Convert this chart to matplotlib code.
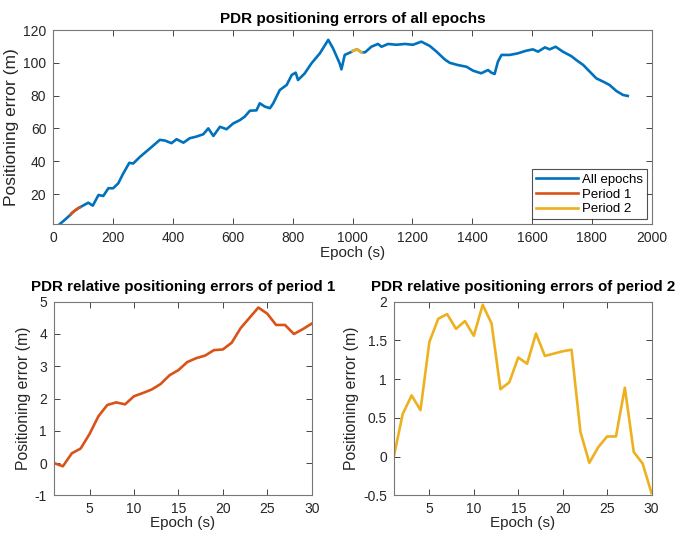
import numpy as np
import matplotlib
matplotlib.use("Agg")
import matplotlib.pyplot as plt

plt.rcParams['font.family'] = ['Liberation Sans', 'DejaVu Sans']
plt.rcParams['axes.unicode_minus'] = False

# all-epoch PDR error
all_epochs = [22, 40, 58, 61, 70, 83, 88, 100, 117, 132, 151, 167, 184, 200, 217, 234, 254, 267,
              290, 323, 356, 373, 395, 412, 435, 456, 478, 501, 518, 535, 557, 579, 601,
              623, 640, 657, 679, 690, 707, 724, 735, 757, 780, 797, 810, 818, 840, 863,
              891, 919, 935, 957, 963, 974, 997, 1000, 1015, 1030, 1042, 1063, 1085, 1097,
              1119, 1147, 1175, 1202, 1230, 1258, 1281, 1308, 1325, 1353, 1381, 1403,
              1430, 1453, 1464, 1475, 1486, 1498, 1526, 1553, 1581, 1603, 1620, 1643,
              1659, 1679, 1703, 1731, 1748, 1771, 1793, 1815, 1837, 1859, 1882, 1904, 1920]
all_errors = [1.7, 4.5, 7.5, 8.2, 9.6, 11.3, 11.8, 13.0, 14.7, 12.9, 19.4, 18.8, 23.5, 23.5, 26.5,
              32.6, 39.0, 38.6, 42.7, 47.8, 53.0, 52.6, 51.0, 53.4, 51.3, 54.0, 55.0, 56.4,
              60.0, 55.4, 61.0, 59.5, 63.0, 65.0, 67.2, 70.8, 71.0, 75.3, 73.3, 72.3, 75.3,
              83.4, 86.5, 92.6, 94.0, 89.5, 93.5, 99.7, 105.8, 114.0, 108.8, 99.7, 96.0,
              104.8, 106.7, 107.2, 108.2, 106.4, 106.4, 109.8, 111.5, 109.8, 111.5, 111.0,
              111.5, 111.0, 112.9, 110.3, 106.8, 102.1, 100.0, 98.6, 97.6, 95.2, 93.6,
              95.6, 94.0, 93.2, 100.7, 104.8, 104.8, 105.8, 107.4, 108.2, 106.8, 109.4,
              108.2, 109.8, 106.8, 104.1, 101.7, 98.7, 94.6, 90.5, 88.6, 86.5, 82.8, 80.4, 79.8]

period1_range = (58, 88)
period2_range = (1000, 1030)

# relative errors of the two periods
period_epochs = list(range(1, 31))
period1_errors = [0.0, -0.1, 0.3, 0.45, 0.9, 1.45, 1.8, 1.88, 1.82, 2.07, 2.17, 2.28, 2.45, 2.72,
                  2.88, 3.13, 3.25, 3.33, 3.5, 3.52, 3.73, 4.18, 4.5, 4.82, 4.63, 4.28, 4.28,
                  4.0, 4.15, 4.32]
period2_errors = [0.0, 0.55, 0.79, 0.6, 1.48, 1.78, 1.84, 1.65, 1.75, 1.56, 1.96, 1.72, 0.87,
                  0.96, 1.28, 1.2, 1.59, 1.3, 1.33, 1.36, 1.38, 0.32, -0.08, 0.12, 0.26, 0.26,
                  0.89, 0.06, -0.09, -0.47]

blue = '#0072BD'
red = '#D95319'
yellow = '#EDB120'
axcol = '#262626'


def style(ax):
    ax.tick_params(direction='in', top=True, right=True, length=4, width=0.6,
                   colors=axcol, labelsize=10, pad=5)
    for s in ax.spines.values():
        s.set_color('#777777')
        s.set_linewidth(0.8)


fig = plt.figure(figsize=(6.79, 5.33), dpi=100)

ax1 = fig.add_axes([0.0785, 0.5797, 0.8813, 0.364])
ep = np.array(all_epochs)
er = np.array(all_errors)
ax1.plot(ep, er, color=blue, lw=1.9, label='All epochs')
m1 = (ep >= period1_range[0]) & (ep <= period1_range[1])
m2 = (ep >= period2_range[0]) & (ep <= period2_range[1])
ax1.plot(ep[m1], er[m1], color=red, lw=1.9, label='Period 1')
ax1.plot(ep[m2], er[m2], color=yellow, lw=1.9, label='Period 2')
ax1.set_xlim(0, 2000)
ax1.set_ylim(1.7, 120)
ax1.set_xticks(range(0, 2001, 200))
ax1.set_yticks(range(20, 121, 20))
ax1.set_title('PDR positioning errors of all epochs', fontsize=11, fontweight='bold', pad=5)
ax1.set_xlabel('Epoch (s)', fontsize=11, color=axcol, labelpad=1)
ax1.set_ylabel('Positioning error (m)', fontsize=12.5, color=axcol, labelpad=3)
style(ax1)
leg = ax1.legend(loc='lower right', fontsize=9.5, frameon=True, fancybox=False,
                 handlelength=3.2, handletextpad=0.3, borderpad=0.3, labelspacing=0.2,
                 borderaxespad=0.35)
leg.get_frame().set_edgecolor('#262626')
leg.get_frame().set_linewidth(0.8)

ax2 = fig.add_axes([0.0795, 0.0707, 0.3795, 0.3632])
ax2.plot(period_epochs, period1_errors, color=red, lw=1.9)
ax2.set_xlim(1, 30)
ax2.set_ylim(-1, 5)
ax2.set_xticks(range(5, 31, 5))
ax2.set_title('PDR relative positioning errors of period 1', fontsize=10.9, fontweight='bold', pad=8)
ax2.set_xlabel('Epoch (s)', fontsize=11, color=axcol, labelpad=0)
ax2.set_ylabel('Positioning error (m)', fontsize=11.3, color=axcol, labelpad=3)
style(ax2)

ax3 = fig.add_axes([0.580, 0.0707, 0.3795, 0.3632])
ax3.plot(period_epochs, period2_errors, color=yellow, lw=1.9)
ax3.set_xlim(1, 30)
ax3.set_ylim(-0.5, 2)
ax3.set_xticks(range(5, 31, 5))
ax3.set_yticks([-0.5, 0, 0.5, 1, 1.5, 2])
ax3.set_yticklabels(['-0.5', '0', '0.5', '1', '1.5', '2'])
ax3.set_title('PDR relative positioning errors of period 2', fontsize=10.9, fontweight='bold', pad=8)
ax3.set_xlabel('Epoch (s)', fontsize=11, color=axcol, labelpad=0)
ax3.set_ylabel('Positioning error (m)', fontsize=11.3, color=axcol, labelpad=3)
style(ax3)

fig.savefig('out.png', dpi=100)
